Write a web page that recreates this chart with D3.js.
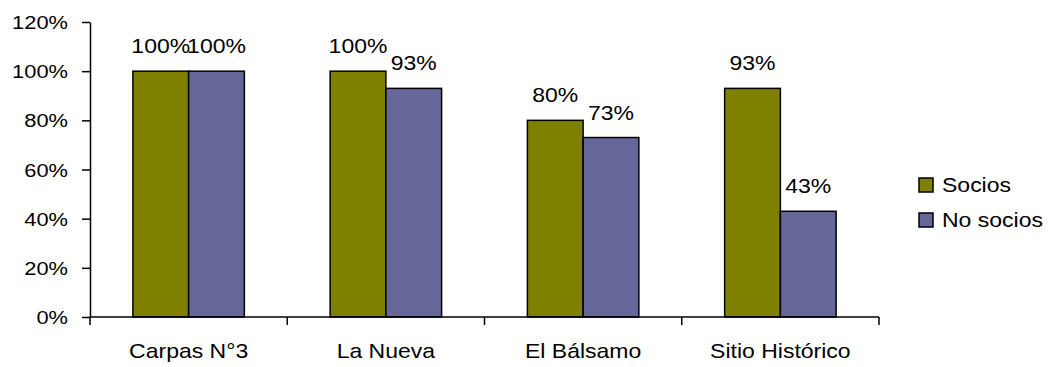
<!DOCTYPE html>
<html>
<head>
<meta charset="utf-8">
<script src="https://cdn.jsdelivr.net/npm/d3@7/dist/d3.min.js"></script>
<style>
  body { margin: 0; background: #fff; }
  text { font-family: "Liberation Sans", Arial, sans-serif; fill: #000; }
</style>
</head>
<body>
<div id="chart"></div>
<script>
// Chart data.
var categories = ["Carpas N°3", "La Nueva", "El Bálsamo", "Sitio Histórico"];
var seriesNames = ["Socios", "No socios"];
var socios = [100, 100, 80, 93];
var noSocios = [100, 93, 73, 43];
var yTicks = [0, 20, 40, 60, 80, 100, 120];

// Layout (note: "top" is a reserved window property, so use plotTop etc.).
var width = 1052,
    height = 367,
    plotLeft = 90,
    plotRight = 879,
    plotTop = 22,
    plotBottom = 317,
    stretch = 1.15,   // the original picture is stretched horizontally
    colors = ["#808000", "#666699"];

var svg = d3.select("#chart").append("svg")
    .attr("width", width)
    .attr("height", height);

// Scales.
var x0 = d3.scaleBand()
    .domain(categories)
    .range([plotLeft, plotRight])
    .paddingInner(0.435)
    .paddingOuter(0.2175);

var x1 = d3.scaleBand()
    .domain(seriesNames)
    .range([0, x0.bandwidth()]);

var y = d3.scaleLinear()
    .domain([0, 120])
    .range([plotBottom, plotTop]);

var color = d3.scaleOrdinal().domain(seriesNames).range(colors);

// Helper: place a horizontally stretched text.
function stretchedText(sel, tx, ty){
  sel.attr("transform", "translate(" + tx + "," + ty + ") scale(" + stretch + ",1)");
}

// Rows for the grouped bars.
var rows = categories.map(function(c, i){
  return { category: c, values: [
    { series: seriesNames[0], value: socios[i] },
    { series: seriesNames[1], value: noSocios[i] }
  ]};
});

// Bars.
var groups = svg.append("g").selectAll("g")
    .data(rows)
  .enter().append("g")
    .attr("transform", function(d){ return "translate(" + x0(d.category) + ",0)"; });

groups.selectAll("rect")
    .data(function(d){ return d.values; })
  .enter().append("rect")
    .attr("x", function(d){ return x1(d.series); })
    .attr("y", function(d){ return y(d.value); })
    .attr("width", x1.bandwidth())
    .attr("height", function(d){ return y(0) - y(d.value); })
    .attr("fill", function(d){ return color(d.series); })
    .attr("stroke", "#000")
    .attr("stroke-width", 1.5);

// Value labels above the bars.
groups.selectAll("text")
    .data(function(d){ return d.values; })
  .enter().append("text")
    .attr("text-anchor", "middle")
    .style("font-size", "20px")
    .text(function(d){ return d.value + "%"; })
    .each(function(d){
      stretchedText(d3.select(this), x1(d.series) + x1.bandwidth() / 2, y(d.value) - 18);
    });

// Y axis.
var yAxis = svg.append("g")
    .attr("transform", "translate(" + plotLeft + ",0)")
    .call(d3.axisLeft(y)
      .tickValues(yTicks)
      .tickSize(8)
      .tickSizeOuter(0)
      .tickFormat(function(d){ return d + "%"; }));

yAxis.attr("font-family", null).attr("font-size", null);
yAxis.select(".domain").attr("stroke", "#000").attr("stroke-width", 1.5);
yAxis.selectAll(".tick line").attr("stroke", "#000").attr("stroke-width", 1.5);
yAxis.selectAll(".tick text")
    .attr("x", null)
    .attr("dy", "0.35em")
    .style("font-size", "19px")
    .attr("fill", "#000")
    .each(function(){ stretchedText(d3.select(this), -22, 0); });

// X axis: baseline with ticks at category boundaries.
var xAxis = svg.append("g");
var boundaries = categories.map(function(c){
  return x0(c) - x0.step() * x0.paddingInner() / 2;
});
boundaries.push(plotRight);

xAxis.append("line")
    .attr("x1", plotLeft)
    .attr("x2", plotRight)
    .attr("y1", y(0))
    .attr("y2", y(0))
    .attr("stroke", "#000")
    .attr("stroke-width", 1.5);

xAxis.selectAll(".xtick")
    .data(boundaries)
  .enter().append("line")
    .attr("class", "xtick")
    .attr("x1", function(d){ return d; })
    .attr("x2", function(d){ return d; })
    .attr("y1", y(0))
    .attr("y2", y(0) + 8)
    .attr("stroke", "#000")
    .attr("stroke-width", 1.5);

xAxis.selectAll(".xlabel")
    .data(categories)
  .enter().append("text")
    .attr("class", "xlabel")
    .attr("text-anchor", "middle")
    .style("font-size", "20px")
    .text(function(d){ return d; })
    .each(function(d){
      stretchedText(d3.select(this), x0(d) + x0.bandwidth() / 2, 358);
    });

// Legend.
var legend = svg.append("g")
    .attr("transform", "translate(919,178)");

var items = legend.selectAll("g")
    .data(seriesNames)
  .enter().append("g")
    .attr("transform", function(d, i){ return "translate(0," + i * 35 + ")"; });

items.append("rect")
    .attr("width", 14)
    .attr("height", 14)
    .attr("fill", function(d){ return color(d); })
    .attr("stroke", "#000")
    .attr("stroke-width", 1.5);

items.append("text")
    .style("font-size", "20px")
    .text(function(d){ return d; })
    .each(function(){ stretchedText(d3.select(this), 23, 13.5); });
</script>
</body>
</html>
